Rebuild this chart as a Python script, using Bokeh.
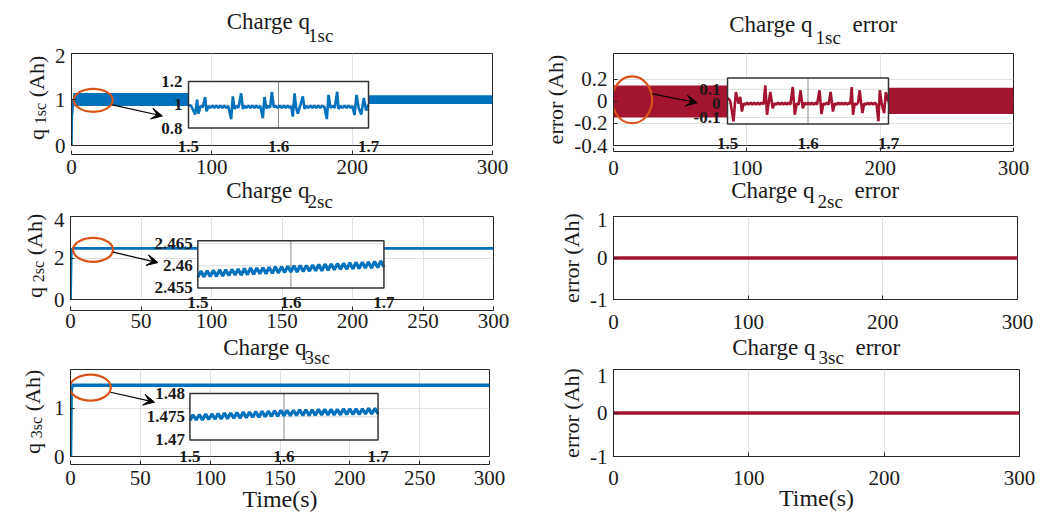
import numpy as np
from bokeh.plotting import figure
from bokeh.models import (Range1d, FixedTicker, Label, LabelSet, ColumnDataSource,
                          Arrow, VeeHead, LinearAxis)
from bokeh.layouts import column, row
from bokeh.embed import file_html
from bokeh.resources import INLINE
from bokeh.core.properties import value

# ---------------------------------------------------------------- data
x_ticks_100 = [0, 100, 200, 300]
x_ticks_50 = [0, 50, 100, 150, 200, 250, 300]
q1_yticks = [0, 1, 2]
q1_ytick_labels = ["0", "1", "2"]
e1_yticks = [-0.4, -0.2, 0, 0.2]
e1_ytick_labels = ["-0.4", "-0.2", "0", "0.2"]
q2_yticks = [0, 2, 4]
q2_ytick_labels = ["0", "2", "4"]
q3_yticks = [0, 1]
q3_ytick_labels = ["0", "1"]
e_yticks = [-1, 0, 1]
e_ytick_labels = ["-1", "0", "1"]

# main traces
q1_t = [0, 0.3, 0.6, 1.2, 300]
q1_v = [0, 0.66, 0.72, 1.0, 1.0]
q1_band_t = [1.2, 211, 211, 300]          # envelope of the fast oscillation
q1_band_lo = [0.86, 0.86, 0.90, 0.90]
q1_band_hi = [1.14, 1.14, 1.09, 1.09]

e1_band_t = [0, 206, 206, 300]
e1_band_lo = [-0.145, -0.145, -0.114, -0.114]
e1_band_hi = [0.145, 0.145, 0.124, 0.124]

q2_t = [0, 0.5, 1.5, 300]
q2_v = [0, 2.30, 2.46, 2.46]
q3_t = [0, 0.5, 1.5, 300]
q3_v = [0, 1.38, 1.475, 1.475]
e_t = [0, 300]
e2_v = [0, 0]
e3_v = [0, 0]

# zoomed windows (1.5 s .. 1.7 s)
inset_xticks = [1.5, 1.6, 1.7]
inset_xtick_labels = ["1.5", "1.6", "1.7"]
inset1_yticks = [0.8, 1.0, 1.2]
inset1_ytick_labels = ["0.8", "1", "1.2"]
inset2_yticks = [-0.1, 0.0, 0.1]
inset2_ytick_labels = ["-0.1", "0", "0.1"]
inset3_yticks = [2.455, 2.46, 2.465]
inset3_ytick_labels = ["2.455", "2.46", "2.465"]
inset4_yticks = [1.47, 1.475, 1.48]
inset4_ytick_labels = ["1.47", "1.475", "1.48"]

inset1_t = [1.5000, 1.5030, 1.5074, 1.5096, 1.5111, 1.5135, 1.5159, 1.5185, 1.5200, 1.5222,
            1.5244, 1.5266, 1.5288, 1.5310, 1.5332, 1.5354, 1.5376, 1.5398, 1.5420, 1.5442,
            1.5474, 1.5493, 1.5511, 1.5533, 1.5555, 1.5585, 1.5604, 1.5622, 1.5644, 1.5666,
            1.5688, 1.5710, 1.5732, 1.5754, 1.5776, 1.5798, 1.5826, 1.5844, 1.5866, 1.5889,
            1.5907, 1.5926, 1.5948, 1.5970, 1.5992, 1.6014, 1.6036, 1.6058, 1.6080, 1.6102,
            1.6124, 1.6141, 1.6159, 1.6178, 1.6196, 1.6215, 1.6240, 1.6270, 1.6289, 1.6310,
            1.6332, 1.6354, 1.6376, 1.6398, 1.6420, 1.6442, 1.6464, 1.6486, 1.6511, 1.6537,
            1.6556, 1.6578, 1.6604, 1.6626, 1.6652, 1.6667, 1.6690, 1.6712, 1.6734, 1.6756,
            1.6778, 1.6800, 1.6822, 1.6844, 1.6867, 1.6890, 1.6919, 1.6948, 1.6974, 1.7000]
inset1_q = [1.000, 0.990, 0.917, 1.045, 0.925, 0.990, 0.980, 1.067, 0.944, 0.990,
            0.975, 0.992, 0.975, 0.992, 0.975, 0.992, 0.975, 0.992, 0.975, 0.990,
            0.877, 1.072, 0.965, 0.990, 0.975, 1.099, 0.965, 0.990, 0.975, 0.992,
            0.975, 0.992, 0.975, 0.992, 0.975, 0.990, 0.885, 1.067, 0.970, 0.990,
            0.975, 1.112, 0.979, 0.990, 0.975, 0.992, 0.975, 0.992, 0.975, 0.992,
            0.975, 0.990, 0.899, 1.099, 0.975, 0.925, 0.990, 1.072, 0.965, 0.990,
            0.975, 0.992, 0.975, 0.992, 0.975, 0.992, 0.975, 0.992, 0.980, 0.877,
            1.085, 0.975, 0.990, 0.975, 1.112, 0.965, 0.990, 0.975, 0.992, 0.975,
            0.992, 0.975, 0.990, 0.912, 1.085, 0.975, 0.917, 1.059, 0.952, 1.000]

inset2_t = [1.5000, 1.5033, 1.5075, 1.5104, 1.5137, 1.5158, 1.5179, 1.5200, 1.5222, 1.5244,
            1.5266, 1.5288, 1.5310, 1.5332, 1.5354, 1.5376, 1.5398, 1.5420, 1.5449, 1.5470,
            1.5491, 1.5510, 1.5532, 1.5561, 1.5583, 1.5605, 1.5627, 1.5649, 1.5671, 1.5693,
            1.5715, 1.5737, 1.5759, 1.5781, 1.5811, 1.5836, 1.5860, 1.5884, 1.5906, 1.5936,
            1.5958, 1.5980, 1.6002, 1.6024, 1.6046, 1.6068, 1.6090, 1.6112, 1.6143, 1.6168,
            1.6190, 1.6212, 1.6234, 1.6256, 1.6281, 1.6310, 1.6332, 1.6354, 1.6376, 1.6398,
            1.6420, 1.6442, 1.6464, 1.6486, 1.6508, 1.6525, 1.6543, 1.6559, 1.6580, 1.6602,
            1.6622, 1.6642, 1.6676, 1.6698, 1.6720, 1.6742, 1.6764, 1.6786, 1.6808, 1.6830,
            1.6852, 1.6875, 1.6892, 1.6915, 1.6946, 1.6967, 1.7000]
inset2_e = [0.040, 0.020, -0.126, 0.081, 0.000, 0.046, -0.057, 0.000, -0.008, 0.005,
            -0.008, 0.005, -0.008, 0.005, -0.008, 0.005, -0.008, 0.005, -0.005, 0.127,
            -0.080, 0.000, 0.081, -0.034, 0.000, -0.008, 0.005, -0.008, 0.005, -0.008,
            0.005, -0.008, 0.005, -0.008, 0.116, -0.080, 0.000, -0.008, 0.093, -0.034,
            0.005, -0.008, 0.005, -0.008, 0.005, -0.008, 0.005, -0.008, 0.093, -0.075,
            0.000, -0.008, 0.005, -0.008, 0.081, -0.057, 0.000, -0.008, 0.005, -0.008,
            0.005, -0.008, 0.005, -0.008, 0.005, -0.005, 0.116, -0.080, 0.000, -0.008,
            0.005, 0.093, -0.068, 0.000, -0.008, 0.005, -0.008, 0.005, -0.008, 0.005,
            -0.008, -0.126, 0.093, 0.000, -0.068, 0.081, 0.010]

zoom_t = [1.5000, 1.5033, 1.5067, 1.5100, 1.5133, 1.5167, 1.5200, 1.5233, 1.5267, 1.5300,
          1.5333, 1.5367, 1.5400, 1.5433, 1.5467, 1.5500, 1.5533, 1.5567, 1.5600, 1.5633,
          1.5667, 1.5700, 1.5733, 1.5767, 1.5800, 1.5833, 1.5867, 1.5900, 1.5933, 1.5967,
          1.6000, 1.6033, 1.6067, 1.6100, 1.6133, 1.6167, 1.6200, 1.6233, 1.6267, 1.6300,
          1.6333, 1.6367, 1.6400, 1.6433, 1.6467, 1.6500, 1.6533, 1.6567, 1.6600, 1.6633,
          1.6667, 1.6700, 1.6733, 1.6767, 1.6800, 1.6833, 1.6867, 1.6900, 1.6933, 1.6967,
          1.7000]
inset3_q = [2.4574, 2.4588, 2.4575, 2.4589, 2.4576, 2.4590, 2.4576, 2.4591, 2.4577, 2.4591,
            2.4578, 2.4592, 2.4579, 2.4593, 2.4579, 2.4594, 2.4580, 2.4595, 2.4581, 2.4595,
            2.4582, 2.4596, 2.4582, 2.4597, 2.4583, 2.4598, 2.4584, 2.4598, 2.4585, 2.4599,
            2.4586, 2.4600, 2.4586, 2.4601, 2.4587, 2.4601, 2.4588, 2.4602, 2.4589, 2.4603,
            2.4589, 2.4604, 2.4590, 2.4604, 2.4591, 2.4605, 2.4592, 2.4606, 2.4592, 2.4607,
            2.4593, 2.4608, 2.4594, 2.4608, 2.4595, 2.4609, 2.4595, 2.4610, 2.4596, 2.4611,
            2.4597]
inset4_q = [1.4742, 1.4754, 1.4743, 1.4755, 1.4743, 1.4756, 1.4744, 1.4756, 1.4745, 1.4757,
            1.4745, 1.4758, 1.4746, 1.4758, 1.4747, 1.4759, 1.4747, 1.4760, 1.4748, 1.4760,
            1.4749, 1.4761, 1.4749, 1.4762, 1.4750, 1.4762, 1.4751, 1.4763, 1.4751, 1.4764,
            1.4752, 1.4764, 1.4752, 1.4764, 1.4753, 1.4765, 1.4753, 1.4765, 1.4753, 1.4765,
            1.4753, 1.4766, 1.4754, 1.4766, 1.4754, 1.4766, 1.4754, 1.4766, 1.4754, 1.4767,
            1.4755, 1.4767, 1.4755, 1.4767, 1.4755, 1.4767, 1.4756, 1.4768, 1.4756, 1.4768,
            1.4756]

# ---------------------------------------------------------------- style
FONT = "Liberation Serif"
BLUE = "#0072BD"
RED = "#A2142F"
ORANGE = "#D95319"
INK = "#1a1a1a"
AXIS = "#262626"
GRID = "#e1e1e1"
PAGE_W = 1040
MID = 0.33          # baseline sits MID*font_size below a 'middle' anchor
DESC = 0.22         # descent as a fraction of the font size


def text_canvas(w, h):
    c = figure(width=w, height=h, x_range=Range1d(0, w), y_range=Range1d(0, h),
               x_axis_type=None, y_axis_type=None, toolbar_location=None,
               output_backend="svg", min_border=0)
    c.outline_line_color = None
    return c


def label_slice(w, h, text, size, baseline_x):
    """A thin canvas whose (tick-less) left axis carries one vertical text piece,
    centred on the canvas height, with its baseline at baseline_x."""
    c = figure(width=w, height=h, x_range=Range1d(0, 1), y_range=Range1d(0, 1),
               x_axis_type=None, y_axis_type=None, toolbar_location=None,
               output_backend="svg", min_border=0,
               min_border_left=int(round(baseline_x + DESC * size)))
    c.outline_line_color = None
    if text:
        ax = LinearAxis(ticker=FixedTicker(ticks=[]), axis_label=text)
        ax.axis_line_color = None
        ax.major_tick_line_color = None
        ax.minor_tick_line_color = None
        ax.major_tick_in = 0
        ax.major_tick_out = 0
        ax.major_label_standoff = 0
        ax.axis_label_standoff = 0
        ax.axis_label_text_font = FONT
        ax.axis_label_text_font_style = "normal"
        ax.axis_label_text_font_size = f"{size}px"
        ax.axis_label_text_color = INK
        c.add_layout(ax, "left")
    return c


def ylabel_column(r_top, r_h, fleft, fcy, idx):
    """Vertical 'q_{idx sc} (Ah)' built from stacked slices (page px geometry)."""
    fm, fs = 22, 16
    bx_main, bx_sub = fleft - 40, fleft - 27
    b = [r_top, int(round(fcy - 44)), int(round(fcy)), int(round(fcy + 30)),
         int(round(fcy + 42)), r_top + r_h]
    pieces = [("", fm, bx_main), ("(Ah)", fm, bx_main), (f"{idx}sc", fs, bx_sub),
              ("q", fm, bx_main), ("", fm, bx_main)]
    kids = []
    for (txt, size, bx), y0, y1 in zip(pieces, b[:-1], b[1:]):
        if y1 - y0 > 0:
            kids.append(label_slice(YL_W, y1 - y0, txt, size, bx))
    return column(*kids)


def make_panel(w, h, bl, br, bt, bb, yr, xticks, yticks, ylabels, xstand):
    p = figure(width=w, height=h, x_range=Range1d(0, 300), y_range=Range1d(*yr),
               toolbar_location=None, output_backend="svg",
               min_border_left=bl, min_border_right=br,
               min_border_top=bt, min_border_bottom=bb)
    p.background_fill_color = "white"
    p.border_fill_color = "white"
    p.outline_line_color = AXIS
    p.outline_line_alpha = 1
    p.outline_line_width = 1
    specs = ((p.xaxis[0], xticks, [str(t) for t in xticks], xstand),
             (p.yaxis[0], yticks, ylabels, 6))
    for ax, ticks, labels, st in specs:
        ax.ticker = FixedTicker(ticks=ticks)
        ax.major_label_overrides = {t: l for t, l in zip(ticks, labels)}
        ax.major_tick_in = 4
        ax.major_tick_out = 0
        ax.minor_tick_line_color = None
        ax.axis_line_color = AXIS
        ax.major_tick_line_color = AXIS
        ax.major_label_text_font = FONT
        ax.major_label_text_font_size = "21px"
        ax.major_label_text_color = INK
        ax.major_label_standoff = st
        ax.axis_label_text_font = FONT
        ax.axis_label_text_font_style = "normal"
        ax.axis_label_text_color = INK
    p.xgrid.ticker = FixedTicker(ticks=xticks)
    p.ygrid.ticker = FixedTicker(ticks=yticks)
    p.xgrid.grid_line_color = GRID
    p.ygrid.grid_line_color = GRID
    return p


def add_titles(strip, s_top, s_h, xc, ftop, idx, err, main_dy, sub_dy):
    """Title 'Charge q_{idx sc}' (+ 'error'); baselines main_dy / sub_dy px above frame top."""
    fm, fs = 23, 19
    yb_main = s_top + s_h - (ftop - main_dy) + MID * fm
    yb_sub = s_top + s_h - (ftop - sub_dy) + MID * fs
    if err:
        dx_main, dx_sub = -1, 2
    else:
        dx_main, dx_sub = 28, 26
    common = dict(text_font=FONT, text_color=INK, text_baseline="middle")
    strip.add_layout(Label(x=xc + dx_main, y=yb_main, text="Charge q", text_align="right",
                           text_font_size=f"{fm}px", **common))
    strip.add_layout(Label(x=xc + dx_sub, y=yb_sub, text=f"{idx}sc", text_align="left",
                           text_font_size=f"{fs}px", **common))
    if err:
        strip.add_layout(Label(x=xc + 39, y=yb_main, text="error", text_align="left",
                               text_font_size=f"{fm}px", **common))


def add_mark(p, cx, cy, w, h, x0, y0, x1, y1):
    p.ellipse(x=[cx], y=[cy], width=[w], height=[h], width_units="screen",
              height_units="screen", fill_color=None, line_color=ORANGE, line_width=2.2)
    p.add_layout(Arrow(end=VeeHead(size=11, fill_color="black", line_color="black"),
                       x_start=x0, y_start=y0, x_end=x1, y_end=y1,
                       line_color="black", line_width=1.2))


def add_inset(p, fbox, ylim, t, v, color, lw, yticks, ylabels, ylab_dx, st_inset, st_main):
    fx0, fx1, fy0, fy1 = fbox
    xlim = (inset_xticks[0], inset_xticks[-1])

    def ext(lo, hi, f0, f1):
        full = (hi - lo) / (f1 - f0)
        s = lo - f0 * full
        return Range1d(s, s + full)

    p.extra_x_ranges = {"ix": ext(xlim[0], xlim[1], fx0, fx1)}
    p.extra_y_ranges = {"iy": ext(ylim[0], ylim[1], fy0, fy1)}
    kw = dict(x_range_name="ix", y_range_name="iy")
    p.quad(left=[xlim[0]], right=[xlim[1]], bottom=[ylim[0]], top=[ylim[1]],
           fill_color="white", line_color=None, **kw)
    inner_y = [y for y in yticks if ylim[0] < y < ylim[1]]
    if inner_y:
        p.segment(x0=[xlim[0]] * len(inner_y), x1=[xlim[1]] * len(inner_y),
                  y0=inner_y, y1=inner_y, line_color="#dcdcdc", line_width=1, **kw)
    inner_x = inset_xticks[1:-1]
    p.segment(x0=inner_x, x1=inner_x, y0=[ylim[0]] * len(inner_x), y1=[ylim[1]] * len(inner_x),
              line_color="#8a8a8a", line_width=1, **kw)
    p.line(t, v, line_color=color, line_width=lw, **kw)
    p.quad(left=[xlim[0]], right=[xlim[1]], bottom=[ylim[0]], top=[ylim[1]],
           fill_color=None, line_color="#333333", line_width=1.5, **kw)
    ysrc = ColumnDataSource(dict(x=[xlim[0]] * len(yticks), y=yticks, text=ylabels))
    p.add_layout(LabelSet(x="x", y="y", text="text", source=ysrc, x_offset=ylab_dx,
                          text_align=value("right"), text_baseline=value("middle"),
                          text_font=value(FONT), text_font_style=value("bold"),
                          text_font_size=value("17px"), text_color=value(INK), **kw))
    # x tick labels of the zoom window, on an axis of its own right under the frame
    ax = LinearAxis(x_range_name="ix", ticker=FixedTicker(ticks=inset_xticks))
    ax.major_label_overrides = dict(zip(inset_xticks, inset_xtick_labels))
    ax.axis_line_color = None
    ax.major_tick_line_color = None
    ax.minor_tick_line_color = None
    ax.major_tick_in = 0
    ax.major_tick_out = 0
    ax.major_label_text_font = FONT
    ax.major_label_text_font_style = "bold"
    ax.major_label_text_font_size = "17px"
    ax.major_label_text_color = INK
    ax.major_label_standoff = st_inset
    main = p.below[0]
    main.major_label_standoff = st_main
    p.below = [ax, main]


# ---------------------------------------------------------------- geometry (page px)
S1_TOP, S1_H = 0, 48
R1_TOP, R1_H = 48, 129
S2_TOP, S2_H = 177, 35
R2_TOP, R2_H = 212, 122
S3_TOP, S3_H = 334, 34
R3_TOP, R3_H = 368, 149
YL_W = 50
LW = 490
RW = PAGE_W - YL_W - LW

# ---------------------------------------------------------------- row 1
s1 = text_canvas(PAGE_W, S1_H)
yl1 = ylabel_column(R1_TOP, R1_H, 71, 98.5, 1)

p1 = make_panel(LW, R1_H, 21, 48, 3, 31, (0, 2), x_ticks_100, q1_yticks, q1_ytick_labels, 7)
p1.varea(x=q1_band_t, y1=q1_band_lo, y2=q1_band_hi, fill_color=BLUE)
p1.line(q1_t, q1_v, line_color=BLUE, line_width=2.5)
add_mark(p1, 15.5, 0.983, 39, 23, 29.2, 0.884, 64.8, 0.642)
add_inset(p1, (0.2779, 0.7055, 0.1895, 0.6947), (0.8, 1.2), inset1_t, inset1_q, BLUE, 2.6,
          inset1_yticks, inset1_ytick_labels, -6, -5, 5)
add_titles(s1, S1_TOP, S1_H, 281.5, 51, 1, False, 22, 10)

p2 = make_panel(RW, R1_H, 73, 27, 5, 30, (-0.4, 0.435), x_ticks_100, e1_yticks, e1_ytick_labels, 6)
p2.varea(x=e1_band_t, y1=e1_band_lo, y2=e1_band_hi, fill_color=RED)
add_mark(p2, 14.0, 0.015, 40, 47, 29.0, 0.068, 62.8, -0.012)
add_inset(p2, (0.285, 0.6875, 0.234, 0.734), (-0.145, 0.18), inset2_t, inset2_e, RED, 2.6,
          inset2_yticks, inset2_ytick_labels, -7, -8, 9)
p2.yaxis.axis_label = "error (Ah)"
p2.yaxis.axis_label_text_font_size = "22px"
p2.yaxis.axis_label_standoff = 3
add_titles(s1, S1_TOP, S1_H, 813, 53, 1, True, 21, 10)

# ---------------------------------------------------------------- row 2
s2 = text_canvas(PAGE_W, S2_H)
yl3 = ylabel_column(R2_TOP, R2_H, 69, 256, 2)

p3 = make_panel(LW, R2_H, 19, 47, 1, 35, (0, 4), x_ticks_50, q2_yticks, q2_ytick_labels, 9)
p3.line(q2_t, q2_v, line_color=BLUE, line_width=2.8)
add_mark(p3, 16.0, 2.395, 40, 24, 30.2, 2.28, 62.0, 1.78)
add_inset(p3, (0.301, 0.741, 0.1395, 0.709), (2.455, 2.4657), zoom_t, inset3_q, BLUE, 3.2,
          inset3_yticks, inset3_ytick_labels, -5, -3, 3)
add_titles(s2, S2_TOP, S2_H, 281, 213, 2, False, 15.5, 6)

p4 = make_panel(RW, R2_H, 73, 23, 4, 35, (-1, 1), x_ticks_100, e_yticks, e_ytick_labels, 15)
p4.line(e_t, e2_v, line_color=RED, line_width=3.5)
p4.yaxis.axis_label = "error (Ah)"
p4.yaxis.axis_label_text_font_size = "22px"
p4.yaxis.axis_label_standoff = 3
add_titles(s2, S2_TOP, S2_H, 815, 216, 2, True, 18, 8.5)

# ---------------------------------------------------------------- row 3
s3 = text_canvas(PAGE_W, S3_H)
yl5 = ylabel_column(R3_TOP, R3_H, 67, 412, 3)

p5 = make_panel(LW, R3_H, 17, 51, 0, 61, (0, 1.8), x_ticks_50, q3_yticks, q3_ytick_labels, 9)
p5.line(q3_t, q3_v, line_color=BLUE, line_width=3.5)
add_mark(p5, 14.2, 1.426, 41, 26, 28.7, 1.33, 60.2, 1.125)
add_inset(p5, (0.285, 0.734, 0.19, 0.724), (1.47, 1.48), zoom_t, inset4_q, BLUE, 3.2,
          inset4_yticks, inset4_ytick_labels, -5, -6, 6)
p5.below[1].axis_label = "Time(s)"
p5.below[1].axis_label_text_font_size = "24px"
p5.below[1].axis_label_standoff = -2
add_titles(s3, S3_TOP, S3_H, 278, 368, 3, False, 13.5, 5)

p6 = make_panel(RW, R3_H, 73, 21, 1, 61, (-1, 1), x_ticks_100, e_yticks, e_ytick_labels, 14)
p6.line(e_t, e3_v, line_color=RED, line_width=3.5)
p6.yaxis.axis_label = "error (Ah)"
p6.yaxis.axis_label_text_font_size = "22px"
p6.yaxis.axis_label_standoff = 3
p6.xaxis.axis_label = "Time(s)"
p6.xaxis.axis_label_text_font_size = "24px"
p6.xaxis.axis_label_standoff = -3
add_titles(s3, S3_TOP, S3_H, 816, 369, 3, True, 14.5, 6)

layout = column(s1, row(yl1, p1, p2), s2, row(yl3, p3, p4), s3, row(yl5, p5, p6))
open("out.html", "w").write(file_html(layout, INLINE, "Charge"))
